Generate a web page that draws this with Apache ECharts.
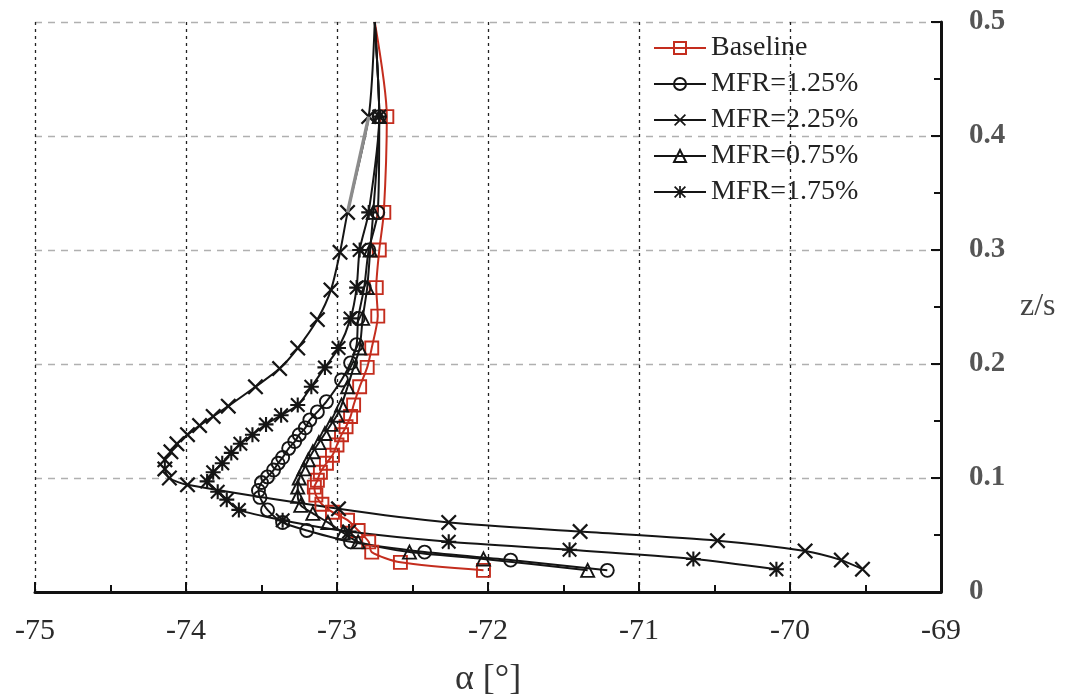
<!DOCTYPE html>
<html>
<head>
<meta charset="utf-8">
<script src="https://cdn.jsdelivr.net/npm/echarts@6/dist/echarts.min.js"></script>
<style>
html,body{margin:0;padding:0;background:#fff;}
#chart{width:1072px;height:699px;}
</style>
</head>
<body>
<div id="chart"></div>
<script>
// ---- data (alpha [deg], z/s) ----
const seriesNames = ['Baseline', 'MFR=1.25%', 'MFR=2.25%', 'MFR=0.75%', 'MFR=1.75%'];

const baselineZ = [0.500,0.417,0.333,0.300,0.267,0.242,0.214,0.197,0.180,0.164,0.154,0.145,0.138,0.129,0.120,0.113,0.105,0.098,0.092,0.085,0.077,0.070,0.063,0.054,0.044,0.035,0.026,0.019];
const baselineA = [-72.75,-72.67,-72.69,-72.72,-72.74,-72.73,-72.77,-72.80,-72.85,-72.89,-72.91,-72.94,-72.97,-73.00,-73.03,-73.07,-73.11,-73.13,-73.15,-73.14,-73.10,-73.03,-72.93,-72.86,-72.79,-72.77,-72.58,-72.03];

const mfr125Z = [0.500,0.417,0.333,0.300,0.267,0.240,0.217,0.201,0.186,0.167,0.158,0.151,0.144,0.138,0.132,0.126,0.118,0.113,0.107,0.101,0.096,0.089,0.083,0.072,0.061,0.054,0.044,0.035,0.028,0.019];
const mfr125A = [-72.75,-72.72,-72.73,-72.79,-72.82,-72.86,-72.87,-72.91,-72.97,-73.07,-73.13,-73.18,-73.21,-73.25,-73.28,-73.32,-73.36,-73.39,-73.42,-73.46,-73.50,-73.52,-73.51,-73.46,-73.36,-73.20,-72.91,-72.42,-71.85,-71.21];

const mfr225Z = [0.500,0.417,0.333,0.298,0.265,0.239,0.214,0.196,0.180,0.163,0.154,0.146,0.138,0.130,0.123,0.116,0.108,0.100,0.094,0.073,0.061,0.053,0.045,0.036,0.028,0.020];
const mfr225A = [-72.75,-72.79,-72.93,-72.98,-73.04,-73.13,-73.26,-73.38,-73.54,-73.72,-73.82,-73.91,-73.99,-74.06,-74.10,-74.14,-74.14,-74.11,-73.99,-72.99,-72.26,-71.39,-70.48,-69.90,-69.66,-69.52];

const mfr075Z = [0.500,0.417,0.333,0.300,0.267,0.240,0.214,0.197,0.180,0.164,0.155,0.147,0.139,0.131,0.123,0.116,0.108,0.100,0.092,0.084,0.076,0.069,0.061,0.052,0.044,0.035,0.029,0.019];
const mfr075A = [-72.75,-72.72,-72.76,-72.78,-72.80,-72.83,-72.85,-72.89,-72.93,-72.97,-73.00,-73.04,-73.08,-73.12,-73.16,-73.19,-73.22,-73.25,-73.26,-73.26,-73.24,-73.16,-73.06,-72.96,-72.86,-72.52,-72.03,-71.34];

const mfr175Z = [0.500,0.417,0.333,0.300,0.267,0.240,0.214,0.197,0.180,0.164,0.155,0.147,0.138,0.130,0.122,0.113,0.105,0.097,0.088,0.081,0.072,0.063,0.053,0.044,0.037,0.029,0.020];
const mfr175A = [-72.75,-72.72,-72.79,-72.85,-72.87,-72.91,-72.99,-73.08,-73.17,-73.26,-73.37,-73.47,-73.56,-73.64,-73.70,-73.76,-73.82,-73.86,-73.79,-73.73,-73.65,-73.36,-72.92,-72.26,-71.46,-70.64,-70.09];

const xTicks = [-75,-74,-73,-72,-71,-70,-69];
const yTicks = [0,0.1,0.2,0.3,0.4,0.5];

// ---- styling ----
const FONT = '"Liberation Serif", "Times New Roman", serif';
const BLACK = '#151515';
const RED = '#c42d1e';
const crossPath = 'path://M1,0 L5,4 L9,0 L10,1 L6,5 L10,9 L9,10 L5,6 L1,10 L0,9 L4,5 L0,1 Z';
const starPath = 'path://M0,1 L1,0 L10,9 L9,10 Z M9,0 L10,1 L1,10 L0,9 Z M0,4.3 L10,4.3 L10,5.7 L0,5.7 Z M5.7,0 L5.7,10 L4.3,10 L4.3,0 Z';

function pairs(a, z) {
  return a.map((v, i) => i === 0 ? {value: [v, z[i]], symbol: 'none'} : [v, z[i]]);
}

function mk(name, a, z, color, symbol, size, hollow) {
  return {
    name: name,
    type: 'line',
    data: pairs(a, z),
    smooth: 0.25,
    symbol: symbol,
    symbolSize: size,
    showAllSymbol: true,
    lineStyle: {color: color, width: 2},
    itemStyle: hollow
      ? {color: 'rgba(255,255,255,0)', borderColor: color, borderWidth: 1.9}
      : {color: color, borderWidth: 0},
    emphasis: {disabled: true},
    z: 2
  };
}

// grey-looking upper segment of the MFR=2.25% curve (as in the scan)
const greySegment = {
  name: 'seg',
  type: 'line',
  data: [[mfr225A[1], mfr225Z[1]], [mfr225A[2], mfr225Z[2]]],
  symbol: 'none',
  lineStyle: {color: '#8c8c8c', width: 3.4},
  emphasis: {disabled: true},
  z: 3
};

const chart = echarts.init(document.getElementById('chart'), null, {renderer: 'canvas'});
chart.setOption({
  animation: false,
  backgroundColor: '#fff',
  grid: {left: 35, right: 131, top: 22, bottom: 107, containLabel: false, outerBoundsMode: 'none'},
  legend: {
    orient: 'vertical',
    left: 648,
    top: 29,
    itemWidth: 52,
    itemHeight: 15,
    itemGap: 8,
    textStyle: {fontFamily: FONT, fontSize: 28, color: '#222'},
    data: seriesNames
  },
  xAxis: {
    type: 'value',
    min: -75, max: -69, interval: 1,
    name: 'α [°]',
    nameLocation: 'middle',
    nameGap: 70,
    nameTextStyle: {fontFamily: FONT, fontSize: 36, color: '#333'},
    axisLine: {show: true, onZero: false, lineStyle: {color: '#111', width: 3}},
    axisTick: {show: true, inside: true, length: 10, lineStyle: {color: '#111', width: 2}},
    minorTick: {show: true, splitNumber: 2, length: 7, lineStyle: {color: '#111', width: 2}},
    axisLabel: {fontFamily: FONT, fontSize: 30, color: '#2a2a2a', margin: 24,
      formatter: v => String(v)},
    splitLine: {show: true, lineStyle: {color: '#222', width: 1.3, type: [3, 4]}}
  },
  yAxis: {
    type: 'value',
    position: 'right',
    min: 0, max: 0.5, interval: 0.1,
    name: 'z/s',
    nameLocation: 'middle',
    nameRotate: 0,
    nameGap: 79,
    nameTextStyle: {fontFamily: FONT, fontSize: 32, color: '#444', padding: [0,0,46,0]},
    axisLine: {show: true, onZero: false, lineStyle: {color: '#111', width: 3}},
    axisTick: {show: true, inside: true, length: 10, lineStyle: {color: '#111', width: 2}},
    minorTick: {show: true, splitNumber: 2, length: 7, lineStyle: {color: '#111', width: 2}},
    axisLabel: {fontFamily: FONT, fontSize: 29, fontWeight: 'bold', color: '#555', margin: 28,
      formatter: v => (v === 0 ? '0' : v.toFixed(1))},
    splitLine: {show: true, lineStyle: {color: '#b0b0b0', width: 1.3, type: [7, 6]}}
  },
  series: [
    mk(seriesNames[0], baselineA, baselineZ, RED, 'rect', 13, true),
    mk(seriesNames[1], mfr125A, mfr125Z, BLACK, 'circle', 13, true),
    mk(seriesNames[2], mfr225A, mfr225Z, BLACK, crossPath, 16, false),
    mk(seriesNames[3], mfr075A, mfr075Z, BLACK, 'triangle', 13, true),
    mk(seriesNames[4], mfr175A, mfr175Z, BLACK, starPath, 15, false),
    greySegment
  ]
});
</script>
</body>
</html>
